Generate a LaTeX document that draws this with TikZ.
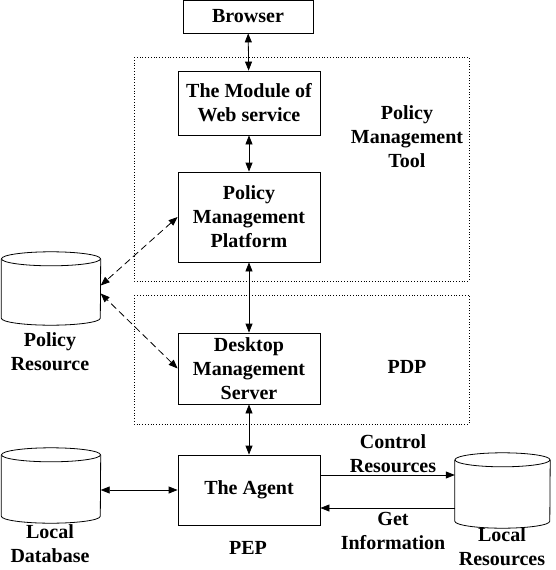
\documentclass[tikz,border=0pt]{standalone}
\usepackage{fontspec}
\setmainfont{Liberation Serif}
\usetikzlibrary{arrows.meta}
\tikzset{
 box/.style={draw,line width=.8pt,align=center,inner sep=0pt},
 frame/.style={draw,dotted,line width=.8pt},
 dbbody/.style={inner sep=0pt},
 lbl/.style={align=center,inner sep=0pt},
 link/.style={{Triangle[length=9pt,width=7pt]}-{Triangle[length=9pt,width=7pt]},line width=.8pt},
 oneway/.style={-{Triangle[length=9pt,width=7pt]},line width=.8pt},
 dlink/.style={link,dash pattern=on 7pt off 4pt}
}
% drum outline round a named node: #1 node, #2 half width
\newcommand\drum[2]{\draw[line width=.8pt] ([yshift=-7pt]#1.north) ellipse[x radius=#2,y radius=7pt];
 \draw[line width=.8pt] ([yshift=-7pt]#1.north west) -- ([yshift=7pt]#1.south west) arc[start angle=180,end angle=360,x radius=#2,y radius=7pt] -- ([yshift=-7pt]#1.north east);}
\begin{document}
\begin{tikzpicture}[x=1pt,y=-1pt,font=\fontsize{20}{24}\selectfont\bfseries]
\useasboundingbox (0,0) rectangle (555,570);
% frames
\draw[frame] (134,57) rectangle (469,281);\draw[frame] (134,295) rectangle (469,424);
\node[lbl] (tool) at (407,137) {Policy\\Management\\Tool};
\node[lbl] (pdp) at (407,367) {PDP};\node[lbl] (pep) at (248,548) {PEP};
% boxes
\node[box,minimum width=130pt,minimum height=33pt] (browser) at (248,16.5) {Browser};
\node[box,minimum width=142pt,minimum height=64pt] (web) at (249,103) {The Module of\\Web service};
\node[box,minimum width=142pt,minimum height=90pt] (pmp) at (249,217) {Policy\\Management\\Platform};
\node[box,minimum width=142pt,minimum height=71pt] (dms) at (249,368.5) {Desktop\\Management\\Server};
\node[box,minimum width=142pt,minimum height=70pt] (agent) at (249,490) {The Agent};
% databases
\node[dbbody,minimum width=99pt,minimum height=73pt] (polres) at (51,288.5) {};\drum{polres}{49.5pt}
\node[lbl] (polreslbl) at (50,351.5) {Policy\\Resource};
\node[dbbody,minimum width=99pt,minimum height=75pt] (locdb) at (51,485.5) {};\drum{locdb}{49.5pt}
\node[lbl] (locdblbl) at (50,544) {Local\\Database};
\node[dbbody,minimum width=95pt,minimum height=75pt] (locres) at (502.5,490.5) {};\drum{locres}{47.5pt}
\node[lbl] (locreslbl) at (502,547) {Local\\Resources};
% connectors
\draw[link] (browser) -- (web);\draw[link] (web) -- (pmp);\draw[link] (pmp) -- (dms);\draw[link] (dms) -- (agent);
\draw[link] (agent.west) -- (agent.west -| locdb.east);
\draw[dlink] (pmp.west) -- ([yshift=3pt]polres.east);\draw[dlink] (dms.west) -- ([yshift=-5pt]polres.east);
\draw[oneway] ([yshift=15pt]agent.east) -- ([yshift=15pt]agent.east -| locres.west);
\draw[oneway] ([yshift=-18pt]agent.east -| locres.west) -- ([yshift=-18pt]agent.east);
\node[lbl] (ctrl) at (393,454) {Control\\Resources};
\node[lbl] (info) at (393,531) {Get\\Information};
\end{tikzpicture}
\end{document}
